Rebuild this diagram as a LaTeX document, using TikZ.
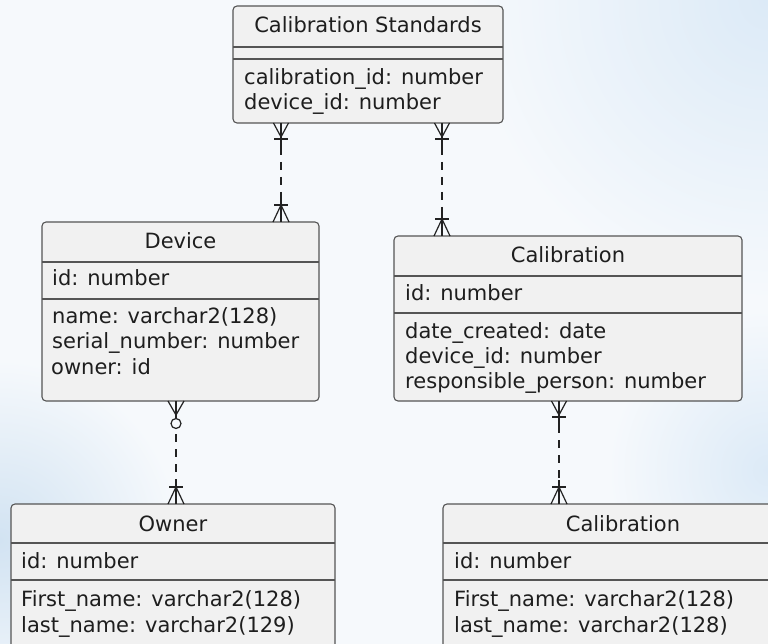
\documentclass[tikz,border=0pt]{standalone}
\usepackage{fontspec}
\setmainfont{DejaVu Sans}
\usetikzlibrary{calc}
\definecolor{bgbase}{HTML}{F6F9FC}
\definecolor{bgblue}{HTML}{DCEAF7}
\definecolor{bgleft}{HTML}{D2E3F2}
\definecolor{boxfill}{HTML}{F1F1F1}
\definecolor{boxline}{HTML}{555555}
\definecolor{txtcol}{HTML}{1E1E1E}
\definecolor{lncol}{HTML}{222222}
\begin{document}
\begin{tikzpicture}[x=1pt,y=-1pt,
  box/.style={draw=boxline, fill=boxfill, line width=1.1pt, rounded corners=4pt, inner sep=0pt, outer sep=0pt, anchor=north west},
  sepline/.style={draw=boxline, line width=1.1pt},
  txt/.style={inner sep=0pt, anchor=base west, text=txtcol, font=\fontsize{21}{25}\selectfont},
  ttl/.style={inner sep=0pt, anchor=base, text=txtcol, font=\fontsize{21}{25}\selectfont},
  conn/.style={draw=lncol, line width=1.2pt},
  dashline/.style={conn, dash pattern=on 8pt off 7pt},
  crowtop/.pic={
    \draw[conn] (-7.5,0) -- (0,14) -- (7.5,0);
    \draw[conn] (0,0) -- (0,24);
    \draw[conn] (-7,16) -- (7,16);
  },
  crowtopzero/.pic={
    \draw[conn] (-8,0) -- (0,14) -- (8,0);
    \draw[conn] (0,0) -- (0,17.5);
    \draw[conn] (0,22.5) circle (5);
  },
  crowbot/.pic={
    \draw[conn] (-8,0) -- (0,-17) -- (8,0);
    \draw[conn] (0,0) -- (0,-24);
    \draw[conn] (-7,-17) -- (7,-17);
  }
]
\clip (0,0) rectangle (768,644);
\fill[bgbase] (0,0) rectangle (768,644);
\shade[inner color=bgblue, outer color=bgbase] (768,0) circle (300);
\shade[inner color=bgblue, outer color=bgbase] (768,470) circle (160);
\shade[inner color=bgleft, outer color=bgbase] (0,540) circle (180);

% Calibration Standards
\node[box, minimum width=270pt, minimum height=117pt] (cs) at (233,6) {};
\draw[sepline] ($(cs.north west)+(0,41)$) -- ($(cs.north east)+(0,41)$);
\draw[sepline] ($(cs.north west)+(0,53)$) -- ($(cs.north east)+(0,53)$);
\node[ttl] (cst) at ($(cs.north)+(0,27)$) {Calibration Standards};
\node[txt] (cs1) at ($(cs.north west)+(11,79)$) {calibration\_id: number};
\node[txt] (cs2) at ($(cs.north west)+(11,104)$) {device\_id: number};

% Device
\node[box, minimum width=277pt, minimum height=179pt] (dev) at (42,222) {};
\draw[sepline] ($(dev.north west)+(0,40)$) -- ($(dev.north east)+(0,40)$);
\draw[sepline] ($(dev.north west)+(0,77)$) -- ($(dev.north east)+(0,77)$);
\node[ttl] (devt) at ($(dev.north)+(0,27)$) {Device};
\node[txt] (dev1) at ($(dev.north west)+(10,64)$) {id: number};
\node[txt] (dev2) at ($(dev.north west)+(10,101)$) {name: varchar2(128)};
\node[txt] (dev3) at ($(dev.north west)+(10,126)$) {serial\_number: number};
\node[txt] (dev4) at ($(dev.north west)+(9,152)$) {owner: id};

% Calibration (middle)
\node[box, minimum width=348pt, minimum height=165pt] (cal) at (394,236) {};
\draw[sepline] ($(cal.north west)+(0,40)$) -- ($(cal.north east)+(0,40)$);
\draw[sepline] ($(cal.north west)+(0,77)$) -- ($(cal.north east)+(0,77)$);
\node[ttl] (calt) at ($(cal.north)+(0,26.5)$) {Calibration};
\node[txt] (cal1) at ($(cal.north west)+(11,64)$) {id: number};
\node[txt] (cal2) at ($(cal.north west)+(11,102)$) {date\_created: date};
\node[txt] (cal3) at ($(cal.north west)+(11,127)$) {device\_id: number};
\node[txt] (cal4) at ($(cal.north west)+(11,152)$) {responsible\_person: number};

% Owner
\node[box, minimum width=324pt, minimum height=170pt] (own) at (11,504) {};
\draw[sepline] ($(own.north west)+(0,39)$) -- ($(own.north east)+(0,39)$);
\draw[sepline] ($(own.north west)+(0,76)$) -- ($(own.north east)+(0,76)$);
\node[ttl] (ownt) at ($(own.north)+(0,27)$) {Owner};
\node[txt] (own1) at ($(own.north west)+(10,64)$) {id: number};
\node[txt] (own2) at ($(own.north west)+(10,102)$) {First\_name: varchar2(128)};
\node[txt] (own3) at ($(own.north west)+(10,128)$) {last\_name: varchar2(129)};

% Calibration (bottom)
\node[box, minimum width=360pt, minimum height=170pt] (cab) at (443,504) {};
\draw[sepline] ($(cab.north west)+(0,39)$) -- ($(cab.north east)+(0,39)$);
\draw[sepline] ($(cab.north west)+(0,76)$) -- ($(cab.north east)+(0,76)$);
\node[ttl] (cabt) at ($(cab.north)+(0,27)$) {Calibration};
\node[txt] (cab1) at ($(cab.north west)+(11,64)$) {id: number};
\node[txt] (cab2) at ($(cab.north west)+(11,102)$) {First\_name: varchar2(128)};
\node[txt] (cab3) at ($(cab.north west)+(11,128)$) {last\_name: varchar2(128)};

% connectors
\coordinate (xa) at (281,0);
\coordinate (xb) at (442,0);
\coordinate (xc) at (176,0);
\coordinate (xd) at (559,0);

\draw[dashline] ($(xa |- cs.south)+(0,24)$) -- ($(xa |- dev.north)+(0,-24)$);
\pic at (xa |- cs.south) {crowtop};
\pic at (xa |- dev.north) {crowbot};

\draw[dashline] ($(xb |- cs.south)+(0,24)$) -- ($(xb |- cal.north)+(0,-24)$);
\pic at (xb |- cs.south) {crowtop};
\pic at (xb |- cal.north) {crowbot};

\draw[dashline] ($(xc |- dev.south)+(0,33)$) -- ($(xc |- own.north)+(0,-24)$);
\pic at (xc |- dev.south) {crowtopzero};
\pic at (xc |- own.north) {crowbot};

\draw[dashline] ($(xd |- cal.south)+(0,24)$) -- ($(xd |- cab.north)+(0,-24)$);
\pic at (xd |- cal.south) {crowtop};
\pic at (xd |- cab.north) {crowbot};
\end{tikzpicture}
\end{document}
